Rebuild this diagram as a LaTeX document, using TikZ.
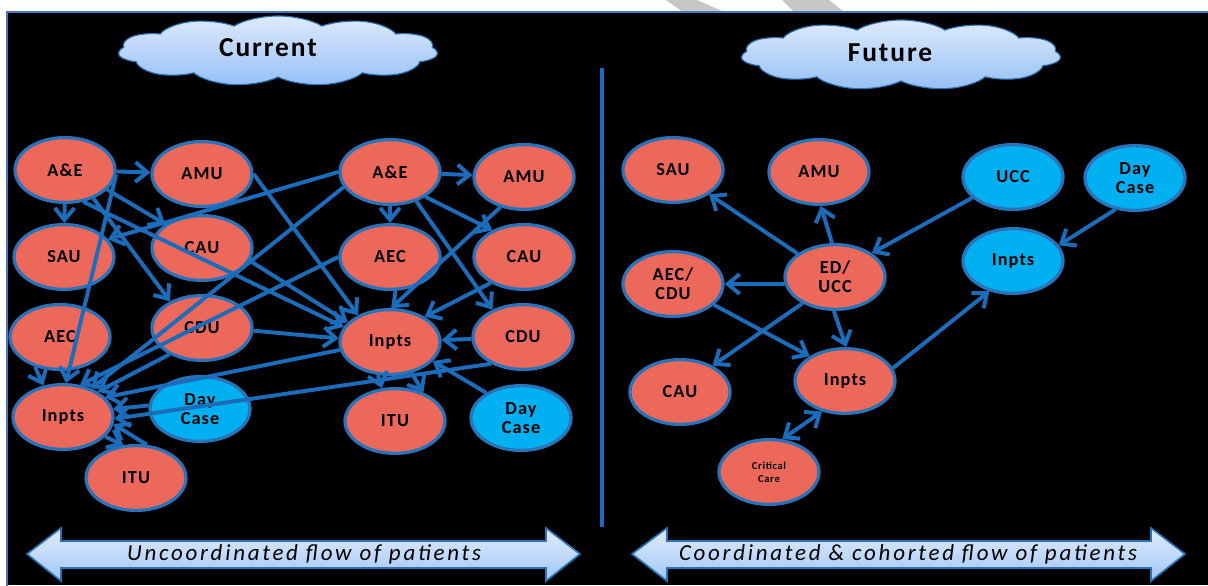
\documentclass[tikz,border=0pt]{standalone}
\usepackage{fontspec}
\setmainfont{Carlito}
\newfontfamily\unitfont[LetterSpace=6]{Carlito}
\newfontfamily\cloudfont[LetterSpace=7]{Carlito}
\newfontfamily\flowfont[LetterSpace=12]{Carlito}
\usetikzlibrary{shapes.geometric,shapes.symbols,arrows.meta}
\definecolor{unitred}{RGB}{236,104,90}
\definecolor{unitcyan}{RGB}{0,176,240}
\definecolor{unitline}{RGB}{40,115,185}
\definecolor{flowblue}{RGB}{28,108,188}
\definecolor{framecol}{RGB}{70,120,195}
\definecolor{cloudtop}{RGB}{222,234,253}
\definecolor{cloudbot}{RGB}{150,192,245}
\definecolor{bartop}{RGB}{225,236,253}
\definecolor{barbot}{RGB}{160,198,246}

\begin{document}
\begin{tikzpicture}[x=0.025cm,y=-0.025cm,
  unit/.style={ellipse,draw=unitline,line width=2.3pt,fill=unitred,
    minimum width=2.5cm,minimum height=1.62cm,inner sep=0pt,align=center,
    font={\unitfont\bfseries\fontsize{13}{13.5}\selectfont}},
  other/.style={unit,fill=unitcyan},
  flow/.style={draw=flowblue,line width=2.8pt,-{Straight Barb[length=8.5pt,width=14pt]}},
  twoway/.style={flow,{Straight Barb[length=8.5pt,width=14pt]}-{Straight Barb[length=8.5pt,width=14pt]}},
  bubble/.style={cloud,cloud puffs=11,cloud puff arc=120,aspect=2,draw=unitline,
    line width=0.8pt,top color=cloudtop,bottom color=cloudbot,
    minimum width=3.2cm,minimum height=1.75cm,xscale=2.5,transform shape},
  title/.style={font={\cloudfont\bfseries\fontsize{19.5}{20}\selectfont}},
  flowbar/.style={draw=unitline,line width=1.2pt,top color=bartop,bottom color=barbot},
  flowtext/.style={font={\flowfont\itshape\fontsize{16.3}{17}\selectfont}},
]
  \useasboundingbox (0,0) rectangle (1208,585);
  \fill[white] (0,0) rectangle (1208,585);
  \fill[gray!45] (666,0) -- (697,0) -- (724,12) -- (683,12) -- cycle;
  \fill[gray!45] (782,0) -- (829,0) -- (844,12) -- (794,12) -- cycle;
  \fill[black] (7,12) rectangle (1208,585);
  \draw[framecol,line width=1.5pt] (7,590) -- (7,12) -- (1215,12);
  \draw[flowblue,line width=3.5pt] (602,68) -- (602,527);

  % clouds
  \node[bubble] (curcloud) at (278,51) {};
  \node[title] (current) at (268,48) {Current};
  \node[bubble] (futcloud) at (901,55) {};
  \node[title] (future) at (890,53) {Future};

  % current
  \node[unit] (ae1) at (65,170) {A\&E};
  \node[unit] (amu1) at (202,174) {AMU};
  \node[unit] (sau1) at (64,257) {SAU};
  \node[unit] (cau1) at (202,248) {CAU};
  \node[unit] (aec1) at (60,337) {AEC};
  \node[unit] (cdu1) at (202,328) {CDU};
  \node[unit] (in1) at (63,417) {Inpts};
  \node[other] (dc1) at (200,409) {Day\\Case};
  \node[unit] (itu1) at (136,478) {ITU};

  \node[unit] (ae2) at (390,172) {A\&E};
  \node[unit] (amu2) at (524,177) {AMU};
  \node[unit] (aec2) at (390,257) {AEC};
  \node[unit] (cau2) at (524,257) {CAU};
  \node[unit] (in2) at (390,342) {Inpts};
  \node[unit] (cdu2) at (523,337) {CDU};
  \node[unit] (itu2) at (395,421) {ITU};
  \node[other] (dc2) at (521,418) {Day\\Case};

  \draw[flow] (ae1) -- (amu1);
  \draw[flow] (ae1) -- (sau1);
  \draw[flow] (ae1.-25) -- (cau1.147);
  \draw[flow] (ae1.-45) -- (cdu1.140);
  \draw[flow] (ae1.-5) -- (in1.85);
  \draw[flow] (ae1.-60) -- (in2.162);
  \draw[flow] (amu1.east) -- (in2.140);
  \draw[flow] (cau1.-15) -- (in2.155);
  \draw[flow] (cdu1.-3) -- (in2.176);
  \draw[flow] (ae2.west) -- (sau1.22);
  \draw[flow] (ae2.198) -- (in1.45);
  \draw[flow] (aec2.west) -- (in1.62);
  \draw[flow] (cdu1.219) -- (in1.36);
  \draw[flow] (in2.189) -- (in1.25);
  \draw[flow] (dc1.176) -- (in1.9);
  \draw[flow] (cdu2.220) -- (in1.-2);
  \draw[flow] (itu1.72) -- (in1.-8);
  \draw[flow] (in1.-25) -- (itu1.111);
  \draw[flow] (aec1.230) -- (in1.122);

  \draw[flow] (ae2) -- (amu2);
  \draw[flow] (ae2) -- (aec2);
  \draw[flow] (ae2.-35) -- (cau2.140);
  \draw[flow] (ae2.-48) -- (cdu2.138);
  \draw[flow] (amu2.232) -- (in2.88);
  \draw[flow] (cau2.218) -- (in2.36);
  \draw[flow] (cdu2) -- (in2);
  \draw[flow] (dc2.144) -- (in2.-24);
  \draw[flow] (in2.-110) -- (itu2.112);
  \draw[flow] (in2.-55) -- (itu2.45);

  % future
  \node[unit] (sau3) at (673,170) {SAU};
  \node[unit] (amu3) at (819,172) {AMU};
  \node[unit] (aec3) at (673,284) {AEC/\\CDU};
  \node[unit] (ed3) at (835,277) {ED/\\UCC};
  \node[unit] (cau3) at (680,392) {CAU};
  \node[unit] (in3) at (845,381) {Inpts};
  \node[unit,font={\unitfont\bfseries\fontsize{7.5}{9}\selectfont}] (cc3) at (769,472) {Critical\\Care};
  \node[other] (ucc3) at (1013,177) {UCC};
  \node[other] (dc3) at (1135,178) {Day\\Case};
  \node[other] (in4) at (1013,261) {Inpts};

  \draw[flow] (ed3.148) -- (sau3.-34);
  \draw[flow] (ed3.95) -- (amu3.-87);
  \draw[flow] (ed3.188) -- (aec3.east);
  \draw[flow] (ed3.219) -- (cau3.39);
  \draw[flow] (ed3.-92) -- (in3.88);
  \draw[flow] (aec3.-27) -- (in3.145);
  \draw[flow] (in3.15) -- (in4.232);
  \draw[twoway] (in3.233) -- (cc3.68);
  \draw[flow] (ucc3.207) -- (ed3.33);
  \draw[flow] (dc3.238) -- (in4.19);

  % flow bars
  \path[flowbar] (27,554) -- (61,528) -- (61,541) -- (546,541) -- (546,528) -- (580,554)
    -- (546,581) -- (546,568) -- (61,568) -- (61,581) -- cycle;
  \node[flowtext] (uncoord) at (304,554) {Uncoordinated flow of patients};
  \path[flowbar] (632,554) -- (667,528) -- (667,541) -- (1151,541) -- (1151,528) -- (1185,554)
    -- (1151,581) -- (1151,568) -- (667,568) -- (667,581) -- cycle;
  \node[flowtext] (coord) at (908,554) {Coordinated \& cohorted flow of patients};
\end{tikzpicture}
\end{document}
